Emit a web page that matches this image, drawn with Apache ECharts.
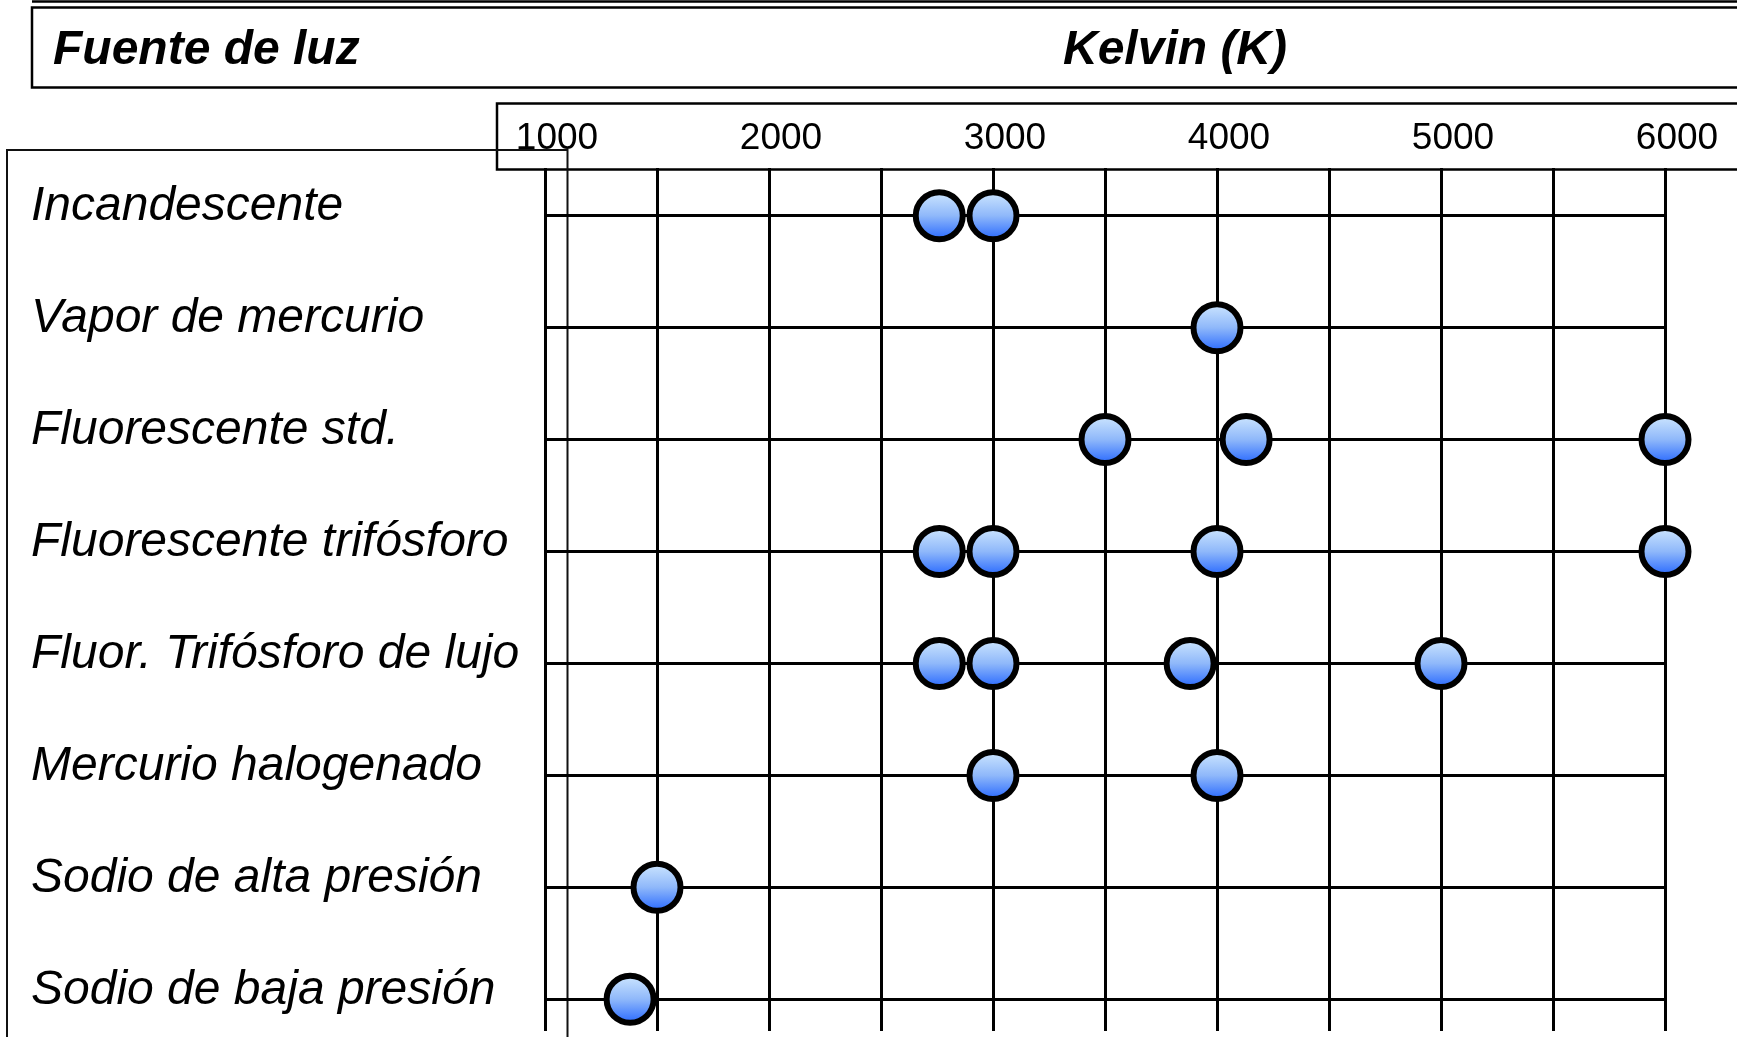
<!DOCTYPE html>
<html>
<head>
<meta charset="utf-8">
<script src="https://cdn.jsdelivr.net/npm/echarts@6/dist/echarts.min.js"></script>
<style>
html,body{margin:0;padding:0;background:#fff;}
#chart{width:1737px;height:1037px;}
</style>
</head>
<body>
<div id="chart"></div>
<script>
// ---- Data ----
const categories = [
  'Incandescente',
  'Vapor de mercurio',
  'Fluorescente std.',
  'Fluorescente trifósforo',
  'Fluor. Trifósforo de lujo',
  'Mercurio halogenado',
  'Sodio de alta presión',
  'Sodio de baja presión'
];
const incandescente = [2760, 3000];
const vaporMercurio = [4000];
const fluorescenteStd = [3500, 4130, 6000];
const fluorescenteTrifosforo = [2760, 3000, 4000, 6000];
const fluorTrifosforoLujo = [2760, 3000, 3880, 5000];
const mercurioHalogenado = [3000, 4000];
const sodioAlta = [1500];
const sodioBaja = [1380];
const kelvinPorFuente = [incandescente, vaporMercurio, fluorescenteStd, fluorescenteTrifosforo,
  fluorTrifosforoLujo, mercurioHalogenado, sodioAlta, sodioBaja];
const tickLabels = ['1000', '2000', '3000', '4000', '5000', '6000'];
const headerLeft = 'Fuente de luz';
const headerRight = 'Kelvin (K)';

// ---- Build ----
const points = [];
kelvinPorFuente.forEach((vals, i) => vals.forEach(v => points.push([v, i])));

const FONT = '"Liberation Sans", Arial, Helvetica, sans-serif';
const chart = echarts.init(document.getElementById('chart'));
chart.setOption({
  backgroundColor: '#fff',
  animation: false,
  grid: [
    { left: 545, right: 72, top: 168, bottom: 6 },
    { left: 545, right: 72, top: 215.7, bottom: 37.7 }
  ],
  xAxis: [
    {
      gridIndex: 0, type: 'value', min: 1000, max: 6000, interval: 500, position: 'top',
      axisLine: { show: false }, axisTick: { show: false },
      splitLine: { show: true, lineStyle: { color: '#000', width: 3 } },
      axisLabel: {
        formatter: v => tickLabels.includes(String(v)) ? String(v) : '',
        color: '#000', fontSize: 37, fontFamily: FONT,
        margin: 29, verticalAlign: 'middle', padding: [0, 0, 0, 24]
      }
    },
    {
      gridIndex: 1, type: 'value', min: 1000, max: 6000, show: false
    }
  ],
  yAxis: [
    { gridIndex: 0, type: 'value', show: false },
    {
      gridIndex: 1, type: 'category', data: categories, inverse: true, boundaryGap: false,
      axisLine: { show: false }, axisTick: { show: false },
      splitLine: { show: true, interval: 0, lineStyle: { color: '#000', width: 3 } },
      axisLabel: {
        interval: 0, align: 'left', margin: 514, verticalAlign: 'bottom', lineHeight: 18,
        color: '#000', fontSize: 48, fontStyle: 'italic', fontFamily: FONT
      }
    }
  ],
  series: [{
    type: 'scatter', xAxisIndex: 1, yAxisIndex: 1, data: points,
    symbol: 'circle', symbolSize: 47, z: 5,
    itemStyle: {
      color: new echarts.graphic.LinearGradient(0, 0, 0, 1, [
        { offset: 0, color: '#d4ebff' },
        { offset: 0.5, color: '#8fb8fa' },
        { offset: 1, color: '#1d60ff' }
      ]),
      borderColor: '#000', borderWidth: 6, opacity: 1
    },
    emphasis: { disabled: true }
  }],
  graphic: [
    { type: 'line', shape: { x1: 32, y1: 1.5, x2: 1740, y2: 1.5 }, style: { stroke: '#000', lineWidth: 2.5 }, z: -1 },
    { type: 'rect', shape: { x: 32, y: 7.5, width: 1720, height: 80 }, style: { fill: 'none', stroke: '#000', lineWidth: 2.5 }, z: -1 },
    { type: 'rect', shape: { x: 497, y: 103.5, width: 1245, height: 66 }, style: { fill: 'none', stroke: '#000', lineWidth: 2.5 }, z: -1 },
    { type: 'polyline', shape: { points: [[7, 1045], [7, 150], [567.5, 150], [567.5, 1045]] }, style: { fill: 'none', stroke: '#111', lineWidth: 2 }, z: -1 },
    { type: 'text', x: 53, y: 51, style: { text: headerLeft, font: 'italic bold 48px ' + FONT, fill: '#000', textVerticalAlign: 'middle' } },
    { type: 'text', x: 1063, y: 51, style: { text: headerRight, font: 'italic bold 48px ' + FONT, fill: '#000', textVerticalAlign: 'middle' } }
  ]
});
</script>
</body>
</html>
